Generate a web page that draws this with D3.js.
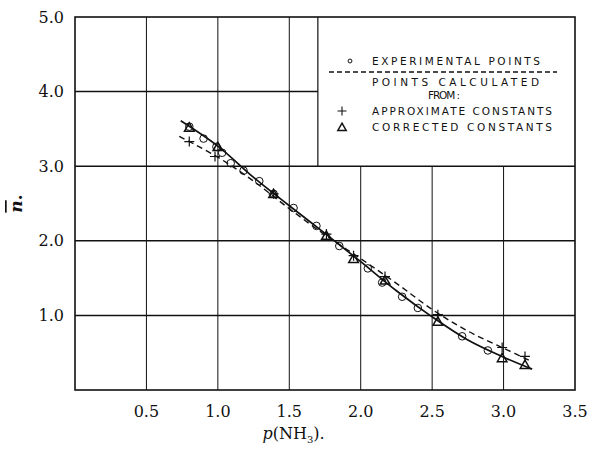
<!DOCTYPE html>
<html>
<head>
<meta charset="utf-8">
<script src="https://cdn.jsdelivr.net/npm/d3@7"></script>
<style>
  body { margin: 0; background: #fff; }
  svg { display: block; }
</style>
</head>
<body>
<div id="chart"></div>
<script>
// experimental points (circles)
const expX = [0.80, 0.90, 0.99, 1.03, 1.09, 1.18, 1.29, 1.39, 1.53, 1.69, 1.85, 2.05, 2.15, 2.29, 2.40, 2.71, 2.89];
const expY = [3.53, 3.37, 3.26, 3.18, 3.04, 2.94, 2.80, 2.63, 2.44, 2.20, 1.93, 1.63, 1.44, 1.25, 1.10, 0.72, 0.53];

// points calculated from approximate constants (+)
const approxX = [0.80, 0.98, 1.39, 1.76, 1.95, 2.17, 2.54, 2.99, 3.15];
const approxY = [3.33, 3.13, 2.63, 2.09, 1.80, 1.52, 1.01, 0.57, 0.45];

// points calculated from corrected constants (triangles)
const corrX = [0.80, 1.00, 1.39, 1.76, 1.95, 2.17, 2.54, 2.99, 3.15];
const corrY = [3.52, 3.26, 2.63, 2.07, 1.76, 1.47, 0.92, 0.43, 0.34];

// solid curve through experimental points
const solidX = [0.74, 1.00, 1.25, 1.50, 1.75, 2.00, 2.25, 2.50, 2.75, 3.00, 3.20];
const solidY = [3.61, 3.27, 2.85, 2.47, 2.10, 1.72, 1.33, 0.98, 0.67, 0.44, 0.28];

// dashed curve (approximate constants)
const dashX = [0.73, 1.00, 1.25, 1.50, 1.75, 2.00, 2.25, 2.50, 2.75, 3.00, 3.20];
const dashY = [3.40, 3.12, 2.80, 2.43, 2.08, 1.76, 1.43, 1.08, 0.79, 0.56, 0.38];

const xTicks = [0.5, 1.0, 1.5, 2.0, 2.5, 3.0, 3.5];
const yTicks = [1.0, 2.0, 3.0, 4.0, 5.0];

const legendLines = ["EXPERIMENTAL  POINTS", "POINTS    CALCULATED", "FROM :", "APPROXIMATE  CONSTANTS", "CORRECTED  CONSTANTS"];

const W = 590, H = 455;
const margin = { top: 17, right: 15, bottom: 65, left: 75 };

const svg = d3.select("#chart").append("svg")
  .attr("width", W).attr("height", H);

const x = d3.scaleLinear().domain([0, 3.5]).range([margin.left, W - margin.right]);
const y = d3.scaleLinear().domain([0, 5]).range([H - margin.bottom, margin.top]);

const ink = "#111";
const serif = "'DejaVu Serif', serif";

// legend box bounds (in data units)
const boxX0 = 1.70, boxY0 = 3.0;

// vertical grid lines
svg.append("g").selectAll("line")
  .data(xTicks.filter(d => d < 3.5))
  .join("line")
  .attr("x1", d => x(d)).attr("x2", d => x(d))
  .attr("y1", y(0))
  .attr("y2", d => d > boxX0 ? y(boxY0) : y(5))
  .attr("stroke", ink).attr("stroke-width", 1);

// horizontal grid lines
svg.append("g").selectAll("line")
  .data(yTicks.filter(d => d < 5))
  .join("line")
  .attr("x1", x(0))
  .attr("x2", d => d > boxY0 ? x(boxX0) : x(3.5))
  .attr("y1", d => y(d)).attr("y2", d => y(d))
  .attr("stroke", ink).attr("stroke-width", 1.5);

// frame
svg.append("rect")
  .attr("x", x(0)).attr("y", y(5))
  .attr("width", x(3.5) - x(0)).attr("height", y(0) - y(5))
  .attr("fill", "none").attr("stroke", ink).attr("stroke-width", 1.6);

// legend box left edge
svg.append("line")
  .attr("x1", x(boxX0)).attr("x2", x(boxX0))
  .attr("y1", y(5)).attr("y2", y(boxY0))
  .attr("stroke", ink).attr("stroke-width", 1.2);

// tick labels
svg.append("g").selectAll("text")
  .data(xTicks)
  .join("text")
  .attr("x", d => x(d)).attr("y", y(0) + 27)
  .attr("text-anchor", "middle")
  .style("font-family", serif).style("font-size", "16px").attr("fill", ink)
  .text(d => d.toFixed(1));

svg.append("g").selectAll("text")
  .data(yTicks)
  .join("text")
  .attr("x", x(0) - 11).attr("y", d => y(d) + 5.5)
  .attr("text-anchor", "end")
  .style("font-family", serif).style("font-size", "16px").attr("fill", ink)
  .text(d => d.toFixed(1));

// axis titles
const xt = svg.append("text")
  .attr("x", x(1.53)).attr("y", y(0) + 49)
  .attr("text-anchor", "middle")
  .style("font-family", serif).style("font-size", "16px").attr("fill", ink);
xt.append("tspan").style("font-style", "italic").text("p");
xt.append("tspan").text("(NH");
xt.append("tspan").attr("dy", 4).style("font-size", "10px").text("3");
xt.append("tspan").attr("dy", -4).text(").");

svg.append("text")
  .attr("transform", `translate(22, ${y(2.5)}) rotate(-90)`)
  .attr("text-anchor", "middle")
  .style("font-family", serif).style("font-size", "17px")
  .style("font-weight", "bold").attr("fill", ink)
  .html('<tspan font-style="italic" text-decoration="overline">n</tspan>.');

// curves
const line = d3.line().x(d => x(d[0])).y(d => y(d[1])).curve(d3.curveCatmullRom);

svg.append("path")
  .datum(d3.zip(solidX, solidY))
  .attr("d", line)
  .attr("fill", "none").attr("stroke", ink).attr("stroke-width", 1.7);

svg.append("path")
  .datum(d3.zip(dashX, dashY))
  .attr("d", line)
  .attr("fill", "none").attr("stroke", ink).attr("stroke-width", 1.4)
  .attr("stroke-dasharray", "6,4");

// markers
const circleSym = d3.symbol().type(d3.symbolCircle).size(45);
const triSym = d3.symbol().type(d3.symbolTriangle).size(40);
const crossPath = s => `M${-s},0H${s}M0,${-s}V${s}`;

svg.append("g").selectAll("path")
  .data(d3.zip(expX, expY))
  .join("path")
  .attr("transform", d => `translate(${x(d[0])},${y(d[1])})`)
  .attr("d", circleSym)
  .attr("fill", "none").attr("stroke", ink).attr("stroke-width", 1);

svg.append("g").selectAll("path")
  .data(d3.zip(corrX, corrY))
  .join("path")
  .attr("transform", d => `translate(${x(d[0])},${y(d[1]) + 1})`)
  .attr("d", triSym)
  .attr("fill", "none").attr("stroke", ink).attr("stroke-width", 1.5);

svg.append("g").selectAll("path")
  .data(d3.zip(approxX, approxY))
  .join("path")
  .attr("transform", d => `translate(${x(d[0])},${y(d[1])})`)
  .attr("d", crossPath(5))
  .attr("fill", "none").attr("stroke", ink).attr("stroke-width", 1.2);

// legend
const lg = svg.append("g");
const sans = "'DejaVu Sans', sans-serif";
const lgText = (t, x0, yc, len) => lg.append("text")
  .attr("x", x0).attr("y", yc + 4)
  .attr("textLength", len).attr("lengthAdjust", "spacing")
  .style("font-family", sans).style("font-size", "10.5px").attr("fill", ink)
  .text(t);

lg.append("path")
  .attr("transform", "translate(350,61)")
  .attr("d", d3.symbol().type(d3.symbolCircle).size(12))
  .attr("fill", "none").attr("stroke", ink).attr("stroke-width", 1);
lgText(legendLines[0], 372, 61, 168);

lg.append("line")
  .attr("x1", 329).attr("x2", 557).attr("y1", 72).attr("y2", 72)
  .attr("stroke", ink).attr("stroke-width", 1.4).attr("stroke-dasharray", "5,3");

lgText(legendLines[1], 372, 82, 167);
lgText(legendLines[2], 428, 95, 32);

lg.append("path")
  .attr("transform", "translate(342,111)")
  .attr("d", crossPath(4.5))
  .attr("fill", "none").attr("stroke", ink).attr("stroke-width", 1.1);
lgText(legendLines[3], 372, 111, 180);

lg.append("path")
  .attr("transform", "translate(342,128)")
  .attr("d", d3.symbol().type(d3.symbolTriangle).size(30))
  .attr("fill", "none").attr("stroke", ink).attr("stroke-width", 1.5);
lgText(legendLines[4], 372, 127, 180);
</script>
</body>
</html>
